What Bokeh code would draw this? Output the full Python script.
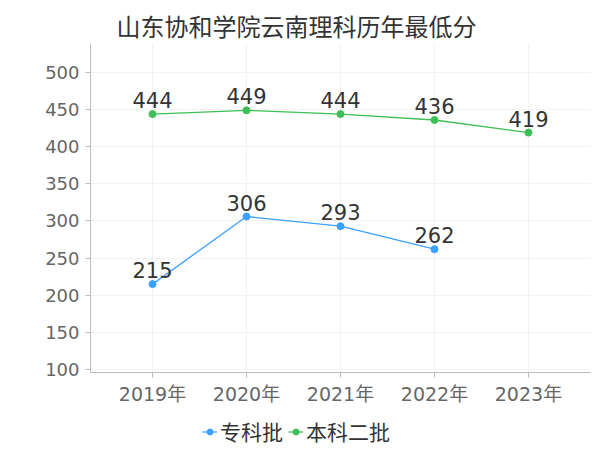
from bokeh.plotting import figure
from bokeh.layouts import column
from bokeh.models import Range1d, FixedTicker, Legend, LegendItem, ColumnDataSource, Title
from bokeh.embed import file_html
from bokeh.resources import INLINE
from bokeh.core.properties import value

title_text = "山东协和学院云南理科历年最低分"
years = ["2019年", "2020年", "2021年", "2022年", "2023年"]
zk_name = "专科批"
zk_values = [215, 306, 293, 262]
bk_name = "本科二批"
bk_values = [444, 449, 444, 436, 419]
y_ticks = [100, 150, 200, 250, 300, 350, 400, 450, 500]

BLUE = "#3ba0ff"
GREEN = "#3dbf55"
NUM_FONT = "DejaVu Sans, 'Noto Sans CJK SC'"
CJK_FONT = "'Noto Sans CJK SC'"

p = figure(width=592, height=410, output_backend="svg", toolbar_location=None,
           x_range=Range1d(-0.66, 4.66), y_range=Range1d(96, 539),
           min_border_left=90, min_border_right=2, min_border_top=43, min_border_bottom=38)
p.outline_line_color = None

t = Title(text=title_text, text_font=CJK_FONT, text_font_size="24px",
          text_color="#333333", text_font_style="normal", align="left", offset=26,
          standoff=2)
p.add_layout(t, "above")
p.title.visible = False

xs_all = list(range(len(years)))
p.xaxis.ticker = FixedTicker(ticks=xs_all)
p.xaxis.major_label_overrides = {i: y for i, y in enumerate(years)}
p.yaxis.ticker = FixedTicker(ticks=y_ticks)

for ax in (p.xaxis[0], p.yaxis[0]):
    ax.axis_line_color = "#bbbbbb"
    ax.major_tick_line_color = "#bbbbbb"
    ax.major_tick_out = 5
    ax.major_tick_in = 0
    ax.minor_tick_line_color = None
    ax.major_label_text_font = NUM_FONT
    ax.major_label_text_font_size = "18px"
    ax.major_label_text_color = "#666666"
p.xaxis.major_label_text_font_size = "19px"
p.yaxis.major_label_standoff = 6
p.xaxis.major_label_standoff = 5

p.xgrid.ticker = FixedTicker(ticks=xs_all)
p.xgrid.grid_line_color = "#f2f2f2"
p.ygrid.grid_line_color = "#f2f2f2"

zk_src = ColumnDataSource(dict(x=xs_all[:len(zk_values)], y=zk_values, t=[str(v) for v in zk_values]))
bk_src = ColumnDataSource(dict(x=xs_all[:len(bk_values)], y=bk_values, t=[str(v) for v in bk_values]))

p.line("x", "y", source=zk_src, line_color=BLUE, line_width=1.3)
p.scatter("x", "y", source=zk_src, size=7, fill_color=BLUE, line_color=BLUE)
p.line("x", "y", source=bk_src, line_color=GREEN, line_width=1.3)
p.scatter("x", "y", source=bk_src, size=7, fill_color=GREEN, line_color=GREEN)

for src in (zk_src, bk_src):
    p.text("x", "y", text="t", source=src, text_align="center", text_baseline="bottom",
           y_offset=-6, text_font=value("DejaVu Sans"), text_font_size="21px", text_color="#333333")

# legend strip below the chart (series drawn out of view; only their legend glyphs show)
p2 = figure(width=592, height=40, output_backend="svg", toolbar_location=None,
            x_axis_type=None, y_axis_type=None, min_border=0,
            x_range=Range1d(-0.66, 4.66), y_range=Range1d(0, 1))
p2.outline_line_color = None
p2.grid.visible = False
lz = p2.line("x", "y", source=zk_src, line_color=BLUE, line_width=1.3)
sz = p2.scatter("x", "y", source=zk_src, size=7, fill_color=BLUE, line_color=BLUE)
lb = p2.line("x", "y", source=bk_src, line_color=GREEN, line_width=1.3)
sb = p2.scatter("x", "y", source=bk_src, size=7, fill_color=GREEN, line_color=GREEN)
legend = Legend(items=[LegendItem(label=zk_name, renderers=[lz, sz]),
                       LegendItem(label=bk_name, renderers=[lb, sb])],
                orientation="horizontal", location=(112, 4),
                label_text_font=CJK_FONT, label_text_font_size="21px", label_text_color="#333333",
                glyph_width=15, glyph_height=21, label_standoff=3, spacing=5,
                padding=0, margin=0, border_line_color=None, background_fill_alpha=0)
p2.add_layout(legend, "center")

open("out.html", "w").write(file_html(column(p, p2, spacing=0), INLINE))
